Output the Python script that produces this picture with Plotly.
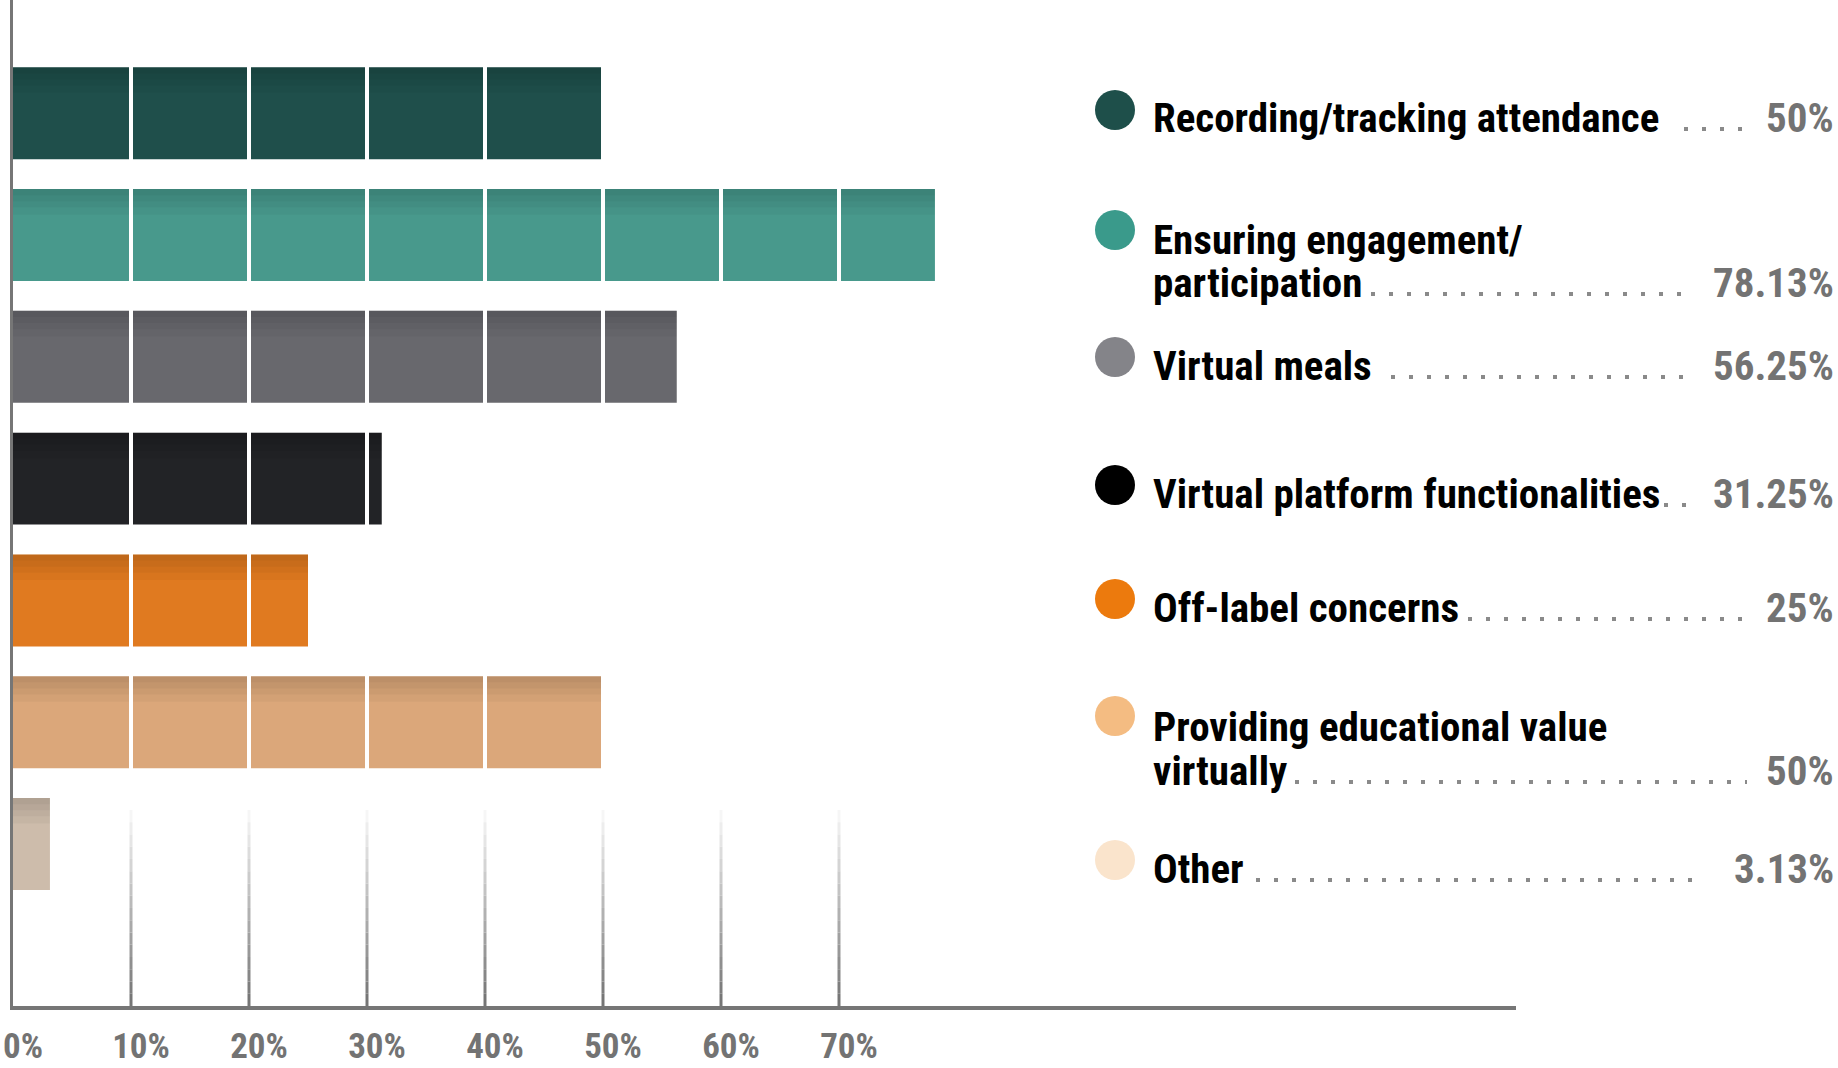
import plotly.graph_objects as go

# ---------------- data ----------------
categories = [
    "Recording/tracking attendance",
    "Ensuring engagement/<br>participation",
    "Virtual meals",
    "Virtual platform functionalities",
    "Off-label concerns",
    "Providing educational value<br>virtually",
    "Other",
]
values = [50, 78.13, 56.25, 31.25, 25, 50, 3.13]
value_labels = ["50%", "78.13%", "56.25%", "31.25%", "25%", "50%", "3.13%"]
tick_values = [0, 10, 20, 30, 40, 50, 60, 70]
tick_labels = ["0%", "10%", "20%", "30%", "40%", "50%", "60%", "70%"]

# ---------------- styling ----------------
bar_colors = ["#1f4f4b", "#48998c", "#68686d", "#222326", "#e07a20", "#dba77a", "#cdbcab"]
dot_colors = ["#1e4f4a", "#3a9a8b", "#848489", "#000000", "#ec7a0d", "#f4bc82", "#fae4cc"]
FONT = "Liberation Sans Narrow, Roboto Condensed, Roboto, sans-serif"
AXIS_GRAY = "#767676"
TEXT_GRAY = "#737373"

W, H = 1838, 1068
ML, MB = 13, 62
PW, PH = W - ML, H - MB  # plot paper size in px
PX_PER_UNIT = 11.8


def px_x(px):
    return (px - ML) / PW


def px_y(py):
    return (PH - py) / PH


# legend layout (pixel positions)
row_line_y = [[118], [240, 283], [366], [494], [608], [727, 771], [869]]
dot_y = [110, 230, 357, 485, 599, 716, 860]
leader_x = [(1684, 1747), (1371, 1688), (1391, 1688), (1664, 1688),
            (1450, 1747), (1295, 1747), (1256, 1705)]

fig = go.Figure()

fig.add_trace(go.Bar(
    y=list(range(len(categories))),
    x=values,
    orientation="h",
    width=0.755,
    marker=dict(color=bar_colors, line=dict(width=0)),
    hoverinfo="skip",
    showlegend=False,
))
# subtle darker gradient at the top of each bar
for h in (0.05, 0.10, 0.15, 0.21):
    fig.add_trace(go.Bar(
        y=list(range(len(categories))),
        x=values,
        orientation="h",
        width=h,
        offset=-0.3775,
        marker=dict(color="rgba(0,0,0,0.035)", line=dict(width=0)),
        hoverinfo="skip",
        showlegend=False,
    ))

shapes = []
# white separators between segments of bars
for t in tick_values[1:]:
    shapes.append(dict(type="line", xref="x", yref="y", x0=t, x1=t, y0=-0.95, y1=5.55,
                       line=dict(color="white", width=4), layer="above"))
# gradient gridlines below bars
n_seg = 16
g0, g1 = 5.72, 7.33
for t in tick_values[1:]:
    for i in range(n_seg):
        f = (i + 1) / n_seg
        c = int(255 - (255 - 118) * f)
        shapes.append(dict(type="line", xref="x", yref="y", x0=t, x1=t,
                           y0=g0 + (g1 - g0) * i / n_seg, y1=g0 + (g1 - g0) * (i + 1) / n_seg,
                           line=dict(color=f"rgb({c},{c},{c})", width=3), layer="below"))

annotations = []
for i, cat in enumerate(categories):
    lines = cat.split("<br>")
    for ln, yy in zip(lines, row_line_y[i]):
        annotations.append(dict(xref="paper", yref="paper", x=px_x(1152), y=px_y(yy),
                                text=ln, showarrow=False, xanchor="left", yanchor="middle",
                                borderpad=0,
                                font=dict(family=FONT, size=41, color="#000000", weight="bold")))
    annotations.append(dict(xref="paper", yref="paper", x=px_x(1836), y=px_y(row_line_y[i][-1]),
                            text=value_labels[i], showarrow=False, xanchor="right", yanchor="middle",
                            font=dict(family=FONT, size=41, color=TEXT_GRAY, weight="bold")))
    # dot marker
    cy = dot_y[i]
    shapes.append(dict(type="circle", xref="paper", yref="paper",
                       x0=px_x(1095), x1=px_x(1135), y0=px_y(cy + 20), y1=px_y(cy - 20),
                       fillcolor=dot_colors[i], line=dict(width=0)))
    # leader dots
    lx0, lx1 = leader_x[i]
    ly = row_line_y[i][-1] + 11
    shapes.append(dict(type="line", xref="paper", yref="paper",
                       x0=px_x(lx0), x1=px_x(lx1), y0=px_y(ly), y1=px_y(ly),
                       line=dict(color="#8a8a8a", width=4, dash="4px,14px")))

fig.update_layout(
    width=W, height=H,
    margin=dict(l=ML, r=0, t=0, b=MB, autoexpand=False),
    paper_bgcolor="white", plot_bgcolor="white",
    barmode="overlay",
    shapes=shapes,
    annotations=annotations,
    xaxis=dict(domain=[0, (1516 - ML) / PW], range=[0, (1516 - ML) / PX_PER_UNIT],
               tickvals=tick_values, ticktext=tick_labels, automargin=False,
               showgrid=False, zeroline=False, showline=True, linecolor=AXIS_GRAY, linewidth=4,
               ticks="", ticklabelstandoff=6, ticklabelshift=10, ticklabeloverflow="allow",
               tickfont=dict(family=FONT, size=35, color=TEXT_GRAY, weight="bold")),
    yaxis=dict(range=[7.33, -0.93], showticklabels=False, showgrid=False, zeroline=False,
               automargin=False,
               showline=True, linecolor=AXIS_GRAY, linewidth=3, ticks=""),
)

fig.write_html("out.html", config={"displayModeBar": False},
               post_script="document.body.style.margin='0px';document.body.style.overflow='hidden';")
